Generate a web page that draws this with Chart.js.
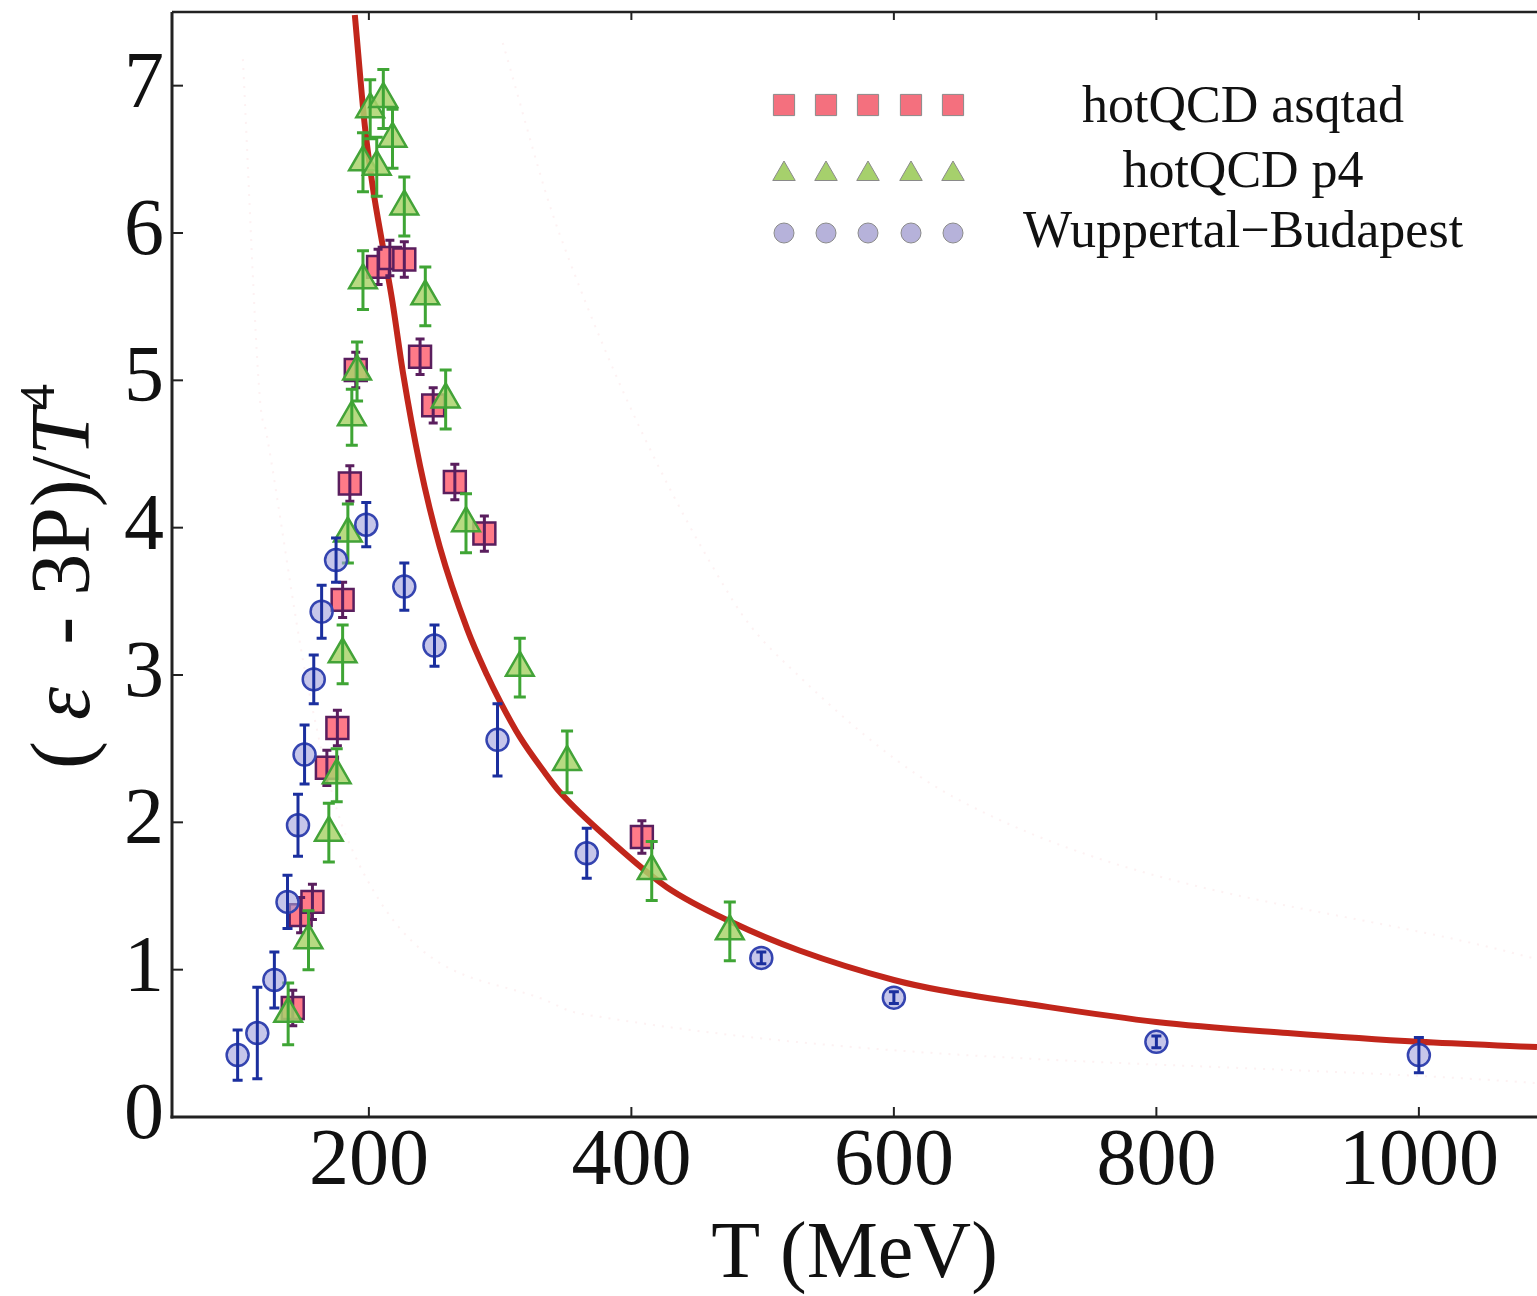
<!DOCTYPE html>
<html>
<head>
<meta charset="utf-8">
<script src="https://cdn.jsdelivr.net/npm/chart.js@4.4.1/dist/chart.umd.min.js"></script>
<style>
  html, body { margin: 0; padding: 0; background: #fff; }
  canvas { display: block; }
</style>
</head>
<body>
<canvas id="chart" width="1537" height="1296"></canvas>
<script>
// hotQCD asqtad (T in MeV, value, error)
const asqT = [142, 148, 157, 168, 176, 180, 185.5, 190, 207, 216, 227, 239, 249, 265.5, 288, 408];
const asqY = [0.74, 1.37, 1.46, 2.37, 2.64, 3.51, 4.30, 5.07, 5.77, 5.83, 5.82, 5.16, 4.83, 4.31, 3.96, 1.90];
const asqErr = [0.12, 0.12, 0.12, 0.12, 0.12, 0.12, 0.12, 0.12, 0.12, 0.12, 0.12, 0.12, 0.12, 0.12, 0.12, 0.11];

// hotQCD p4
const p4T = [138.5, 154, 169.5, 175.5, 180, 184, 187, 191, 195.5, 195.5, 201, 206, 211, 218, 227, 243, 258.5, 274, 315, 351, 415.5, 475];
const p4Y = [0.70, 1.20, 1.93, 2.32, 3.14, 3.96, 4.75, 5.06, 5.68, 6.48, 6.84, 6.45, 6.91, 6.64, 6.18, 5.57, 4.87, 4.03, 3.05, 2.41, 1.67, 1.26];
const p4Err = [0.21, 0.20, 0.20, 0.18, 0.20, 0.20, 0.19, 0.20, 0.20, 0.20, 0.20, 0.20, 0.20, 0.20, 0.20, 0.20, 0.20, 0.20, 0.20, 0.21, 0.20, 0.20];

// Wuppertal-Budapest
const wbT = [100, 115, 128, 138, 146, 151, 158, 164, 175, 198, 227, 250, 298, 366, 499, 600, 800, 1000];
const wbY = [0.42, 0.57, 0.93, 1.46, 1.98, 2.46, 2.97, 3.43, 3.78, 4.02, 3.60, 3.20, 2.56, 1.79, 1.08, 0.81, 0.51, 0.42];
const wbErr = [0.17, 0.31, 0.19, 0.18, 0.21, 0.20, 0.165, 0.18, 0.15, 0.15, 0.16, 0.14, 0.245, 0.17, 0.04, 0.04, 0.04, 0.12];

// red curve
const curveT = [189.3, 197, 203, 211, 218, 226, 239, 254, 275, 290, 300, 315, 333, 346, 386, 427, 477, 528, 600, 636, 700, 800, 900, 1000, 1090];
const curveY = [7.48, 6.72, 6.31, 5.89, 5.53, 5.05, 4.42, 3.87, 3.31, 3.00, 2.82, 2.58, 2.35, 2.20, 1.86, 1.56, 1.32, 1.13, 0.93, 0.86, 0.77, 0.645, 0.57, 0.51, 0.475];

// the two very faint dotted curves in the background
const faintHiT = [302, 345, 477, 528, 650, 1090];
const faintHiY = [7.29, 6.0, 3.51, 2.99, 2.15, 1.07];
const faintLoT = [104, 117, 122, 153, 183, 345, 376, 1090];
const faintLoY = [7.18, 4.87, 4.64, 2.95, 1.90, 0.75, 0.68, 0.23];

const xTickStep = 50;
const yTickStep = 0.2;

const serif = "'Liberation Serif', 'DejaVu Serif', serif";

function pts(xs, ys) {
    return xs.map((x, i) => ({ x: x, y: ys[i] }));
}

// error bars, drawn right after each dataset
const errorBars = {
    id: 'errorBars',
    afterDatasetDraw(chart, args) {
        const ds = chart.data.datasets[args.index];
        if (!ds.errors) return;
        const { ctx, scales: { x, y } } = chart;
        ctx.save();
        ctx.strokeStyle = ds.errColor;
        ctx.lineWidth = 3;
        ds.data.forEach((p, i) => {
            const px = x.getPixelForValue(p.x);
            const y1 = y.getPixelForValue(p.y + ds.errors[i]);
            const y2 = y.getPixelForValue(p.y - ds.errors[i]);
            const c = ds.capWidth / 2;
            ctx.beginPath();
            ctx.moveTo(px, y1); ctx.lineTo(px, y2);
            ctx.moveTo(px - c, y1); ctx.lineTo(px + c, y1);
            ctx.moveTo(px - c, y2); ctx.lineTo(px + c, y2);
            ctx.stroke();
        });
        ctx.restore();
    }
};

// frame with inward ticks (Mathematica style)
const frame = {
    id: 'frame',
    afterDatasetsDraw(chart) {
        const { ctx, chartArea: a, scales: { x, y } } = chart;
        const line = (x1, y1, x2, y2) => { ctx.beginPath(); ctx.moveTo(x1, y1); ctx.lineTo(x2, y2); ctx.stroke(); };
        ctx.save();
        ctx.strokeStyle = '#222';
        ctx.lineWidth = 2;
        x.ticks.forEach(t => {
            if (t.value % xTickStep !== 0) return;
            const px = x.getPixelForValue(t.value);
            const major = t.value % 200 === 0;
            line(px, a.bottom, px, a.bottom - (major ? 10 : 6));
            line(px, a.top, px, a.top + (major ? 8 : 6));
        });
        y.ticks.forEach(t => {
            const k = Math.round(t.value / yTickStep);
            if (Math.abs(t.value / yTickStep - k) > 1e-6) return;
            const py = y.getPixelForValue(t.value);
            line(a.left, py, a.left + (k % 5 === 0 ? 11 : 6), py);
        });
        ctx.lineWidth = 3;
        line(a.left, a.top, a.left, a.bottom + 1.5);
        line(a.left - 1.5, a.bottom, a.right, a.bottom);
        ctx.lineWidth = 2.5;
        line(a.left, a.top, a.right, a.top);
        ctx.restore();
    }
};

// y axis title with italic epsilon / T and superscript 4
const yTitle = {
    id: 'yTitle',
    afterDraw(chart) {
        const { ctx, chartArea: a } = chart;
        const size = 84;
        const parts = [
            { t: '(', f: `${size}px ${serif}`, dy: 0 },
            { t: ' ε', f: `italic ${size}px ${serif}`, dy: 0 },
            { t: '  - 3P)/', f: `${size}px ${serif}`, dy: 0 },
            { t: 'T', f: `italic ${size}px ${serif}`, dy: 0 },
            { t: '4', f: `${Math.round(size * 0.6)}px ${serif}`, dy: -size * 0.42 }
        ];
        ctx.save();
        let total = 0;
        parts.forEach(p => { ctx.font = p.f; p.w = ctx.measureText(p.t).width; total += p.w; });
        ctx.translate(89, (a.top + a.bottom) / 2 + 12);
        ctx.rotate(-Math.PI / 2);
        ctx.fillStyle = '#111';
        ctx.textBaseline = 'alphabetic';
        let cx = -total / 2;
        parts.forEach(p => {
            ctx.font = p.f;
            ctx.fillText(p.t, cx, p.dy);
            cx += p.w;
        });
        ctx.restore();
    }
};

// legend: five markers per row, label centred to the right
const legendRows = [
    { label: 'hotQCD asqtad', style: 'rect', radius: 15, fill: '#f4707e', y: 105, base: 122 },
    { label: 'hotQCD p4', style: 'triangle', radius: 13, fill: '#a6d06c', y: 174, base: 187 },
    { label: 'Wuppertal\u2212Budapest', style: 'circle', radius: 10, fill: '#b6b2da', y: 233, base: 247 }
];
const legendMarkerX = [784, 826, 868, 911, 953];
const legendTextX = 1243;

const legendPlugin = {
    id: 'legendRows',
    afterDraw(chart) {
        const ctx = chart.ctx;
        ctx.save();
        legendRows.forEach(r => {
            ctx.fillStyle = r.fill;
            ctx.strokeStyle = '#8a8a8a';
            legendMarkerX.forEach(mx => {
                Chart.helpers.drawPoint(ctx, { pointStyle: r.style, radius: r.radius, rotation: 0, borderWidth: 1.5 }, mx, r.y);
            });
            ctx.fillStyle = '#111';
            ctx.font = `52px ${serif}`;
            ctx.textAlign = 'center';
            ctx.textBaseline = 'alphabetic';
            ctx.fillText(r.label, legendTextX, r.base);
        });
        ctx.restore();
    }
};

// keep tick labels from pushing the plot area in
function noPad(s) {
    s.paddingTop = 0;
    s.paddingBottom = 0;
    s.paddingLeft = 0;
    s.paddingRight = 0;
}

new Chart(document.getElementById('chart'), {
    type: 'scatter',
    data: {
        datasets: [
            {
                label: 'faint upper',
                data: pts(faintHiT, faintHiY),
                showLine: true, pointRadius: 0, borderWidth: 2,
                borderColor: 'rgba(235,140,150,0.12)', borderDash: [2, 7],
                cubicInterpolationMode: 'monotone', order: 6
            },
            {
                label: 'faint lower',
                data: pts(faintLoT, faintLoY),
                showLine: true, pointRadius: 0, borderWidth: 2,
                borderColor: 'rgba(235,140,150,0.12)', borderDash: [2, 7],
                cubicInterpolationMode: 'monotone', order: 6
            },
            {
                label: 'fit',
                data: pts(curveT, curveY),
                showLine: true, pointRadius: 0, borderWidth: 6,
                borderColor: '#c1261b', cubicInterpolationMode: 'monotone',
                order: 5
            },
            {
                label: 'hotQCD asqtad',
                data: pts(asqT, asqY),
                pointStyle: 'rect', pointRadius: 15.5,
                backgroundColor: '#ff7a88', borderColor: '#5a1e5e', borderWidth: 2.5,
                errors: asqErr, errColor: '#5a1e5e', capWidth: 9,
                order: 3
            },
            {
                label: 'hotQCD p4',
                data: pts(p4T, p4Y),
                pointStyle: 'triangle', pointRadius: 16,
                backgroundColor: 'rgba(170,212,108,0.85)', borderColor: '#43a338', borderWidth: 2.5,
                errors: p4Err, errColor: '#3fa535', capWidth: 12,
                order: 2
            },
            {
                label: 'Wuppertal-Budapest',
                data: pts(wbT, wbY),
                pointStyle: 'circle', pointRadius: 11,
                backgroundColor: 'rgba(160,160,220,0.6)', borderColor: '#3444b0', borderWidth: 2.5,
                errors: wbErr, errColor: '#1b2f9e', capWidth: 10,
                order: 1
            }
        ]
    },
    options: {
        responsive: false,
        animation: false,
        layout: { autoPadding: false, padding: { top: 12, right: 0, bottom: 0, left: 0 } },
        plugins: {
            legend: { display: false },
            tooltip: { enabled: false }
        },
        scales: {
            x: {
                type: 'linear',
                min: 50,
                max: 1090,
                grid: { display: false, drawTicks: false },
                border: { display: false },
                ticks: {
                    stepSize: xTickStep,
                    autoSkip: false,
                    maxRotation: 0,
                    padding: 6,
                    color: '#111',
                    font: { family: serif, size: 80, lineHeight: 1 },
                    callback: v => (v % 200 === 0 ? String(v) : null)
                },
                title: {
                    display: true,
                    text: 'T (MeV)',
                    color: '#111',
                    font: { family: serif, size: 80, lineHeight: 1 },
                    padding: { top: 0, bottom: 0 }
                },
                afterFit: s => { s.height = 179; noPad(s); }
            },
            y: {
                type: 'linear',
                min: 0,
                max: 7.5,
                grid: { display: false, drawTicks: false },
                border: { display: false },
                ticks: {
                    stepSize: yTickStep,
                    autoSkip: false,
                    padding: 8,
                    color: '#111',
                    font: { family: serif, size: 80, lineHeight: 1 },
                    callback: v => (Math.abs(v - Math.round(v)) < 1e-6 ? String(Math.round(v)) : null)
                },
                afterFit: s => { s.width = 172; noPad(s); }
            }
        }
    },
    plugins: [errorBars, frame, yTitle, legendPlugin]
});
</script>
</body>
</html>
